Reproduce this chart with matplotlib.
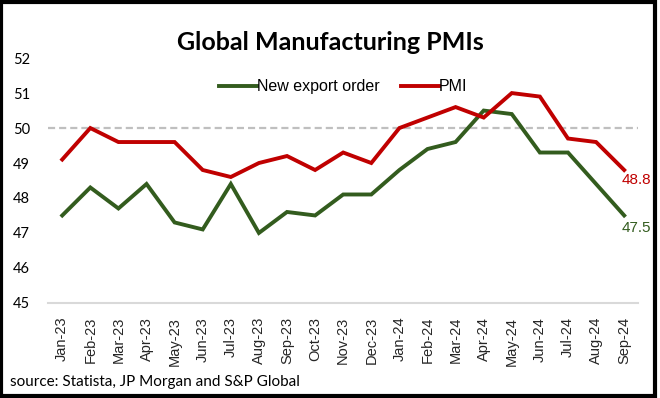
import matplotlib
matplotlib.use('Agg')
import matplotlib.pyplot as plt
from matplotlib.patches import Rectangle

# --- Data ---
months = ['Jan-23', 'Feb-23', 'Mar-23', 'Apr-23', 'May-23', 'Jun-23', 'Jul-23',
          'Aug-23', 'Sep-23', 'Oct-23', 'Nov-23', 'Dec-23', 'Jan-24', 'Feb-24',
          'Mar-24', 'Apr-24', 'May-24', 'Jun-24', 'Jul-24', 'Aug-24', 'Sep-24']
new_export_order = [47.5, 48.3, 47.7, 48.4, 47.3, 47.1, 48.4, 47.0, 47.6, 47.5, 48.1,
                    48.1, 48.8, 49.4, 49.6, 50.5, 50.4, 49.3, 49.3, 48.4, 47.5]
pmi = [49.1, 50.0, 49.6, 49.6, 49.6, 48.8, 48.6, 49.0, 49.2, 48.8, 49.3,
       49.0, 50.0, 50.3, 50.6, 50.3, 51.0, 50.9, 49.7, 49.6, 48.8]
y_ticks = [45, 46, 47, 48, 49, 50, 51, 52]
threshold = 50

# --- Styling ---
GREEN = '#335C1E'
RED = '#C00000'
TITLE_FONT = 'Lato'
LABEL_FONT = 'Liberation Sans'

fig = plt.figure(figsize=(6.6, 3.98), dpi=100)
fig.patch.set_facecolor('white')
ax = fig.add_axes([0.073, 0.239, 0.894, 0.615])

x = range(len(months))
ax.plot(x, new_export_order, color=GREEN, linewidth=2.8, label='New export order',
        solid_joinstyle='miter')
ax.plot(x, pmi, color=RED, linewidth=2.8, label='PMI', solid_joinstyle='miter')
ax.axhline(threshold, color='#BFBFBF', linewidth=1.6, linestyle=(0, (3.2, 1.8)), zorder=0)

# end-of-series value labels
ax.annotate(f'{pmi[-1]:.1f}', (len(months) - 1, pmi[-1]), xytext=(-2, -2),
            textcoords='offset points', ha='left', va='top', color=RED,
            fontsize=11, family=LABEL_FONT)
ax.annotate(f'{new_export_order[-1]:.1f}', (len(months) - 1, new_export_order[-1]),
            xytext=(-2, -4), textcoords='offset points', ha='left', va='top',
            color=GREEN, fontsize=11, family=LABEL_FONT)

ax.set_xlim(-0.5, len(months) - 0.5)
ax.set_ylim(45, 52)
ax.set_yticks(y_ticks)
ax.set_yticklabels([str(v) for v in y_ticks], fontsize=10.5, family=TITLE_FONT)
ax.set_xticks(list(x))
ax.set_xticklabels(months, rotation=90, fontsize=10.5, family=LABEL_FONT, color='#262626')
ax.tick_params(axis='both', length=0)
ax.tick_params(axis='y', pad=13)
ax.tick_params(axis='x', pad=10)

for side in ['top', 'right', 'left']:
    ax.spines[side].set_visible(False)
ax.spines['bottom'].set_color('#D9D9D9')
ax.spines['bottom'].set_linewidth(1.5)

leg = ax.legend(loc='center', bbox_to_anchor=(0.5, 0.882), ncol=2, frameon=False,
                prop={'family': LABEL_FONT, 'size': 11.5}, handlelength=2.4,
                handletextpad=0.0, columnspacing=1.3, borderaxespad=0.0)

fig.text(0.5, 0.893, 'Global Manufacturing PMIs', ha='center', va='center',
         fontsize=18, fontweight='bold', family=TITLE_FONT)
fig.text(0.015, 0.040, 'source: Statista, JP Morgan and S&P Global', ha='left',
         va='center', fontsize=11, family=TITLE_FONT)

# black frame around the whole picture
fig.patches.append(Rectangle((0.002, 0.004), 0.991, 0.992, transform=fig.transFigure,
                             fill=False, edgecolor='black', linewidth=3))

fig.savefig('out.png', dpi=100)
